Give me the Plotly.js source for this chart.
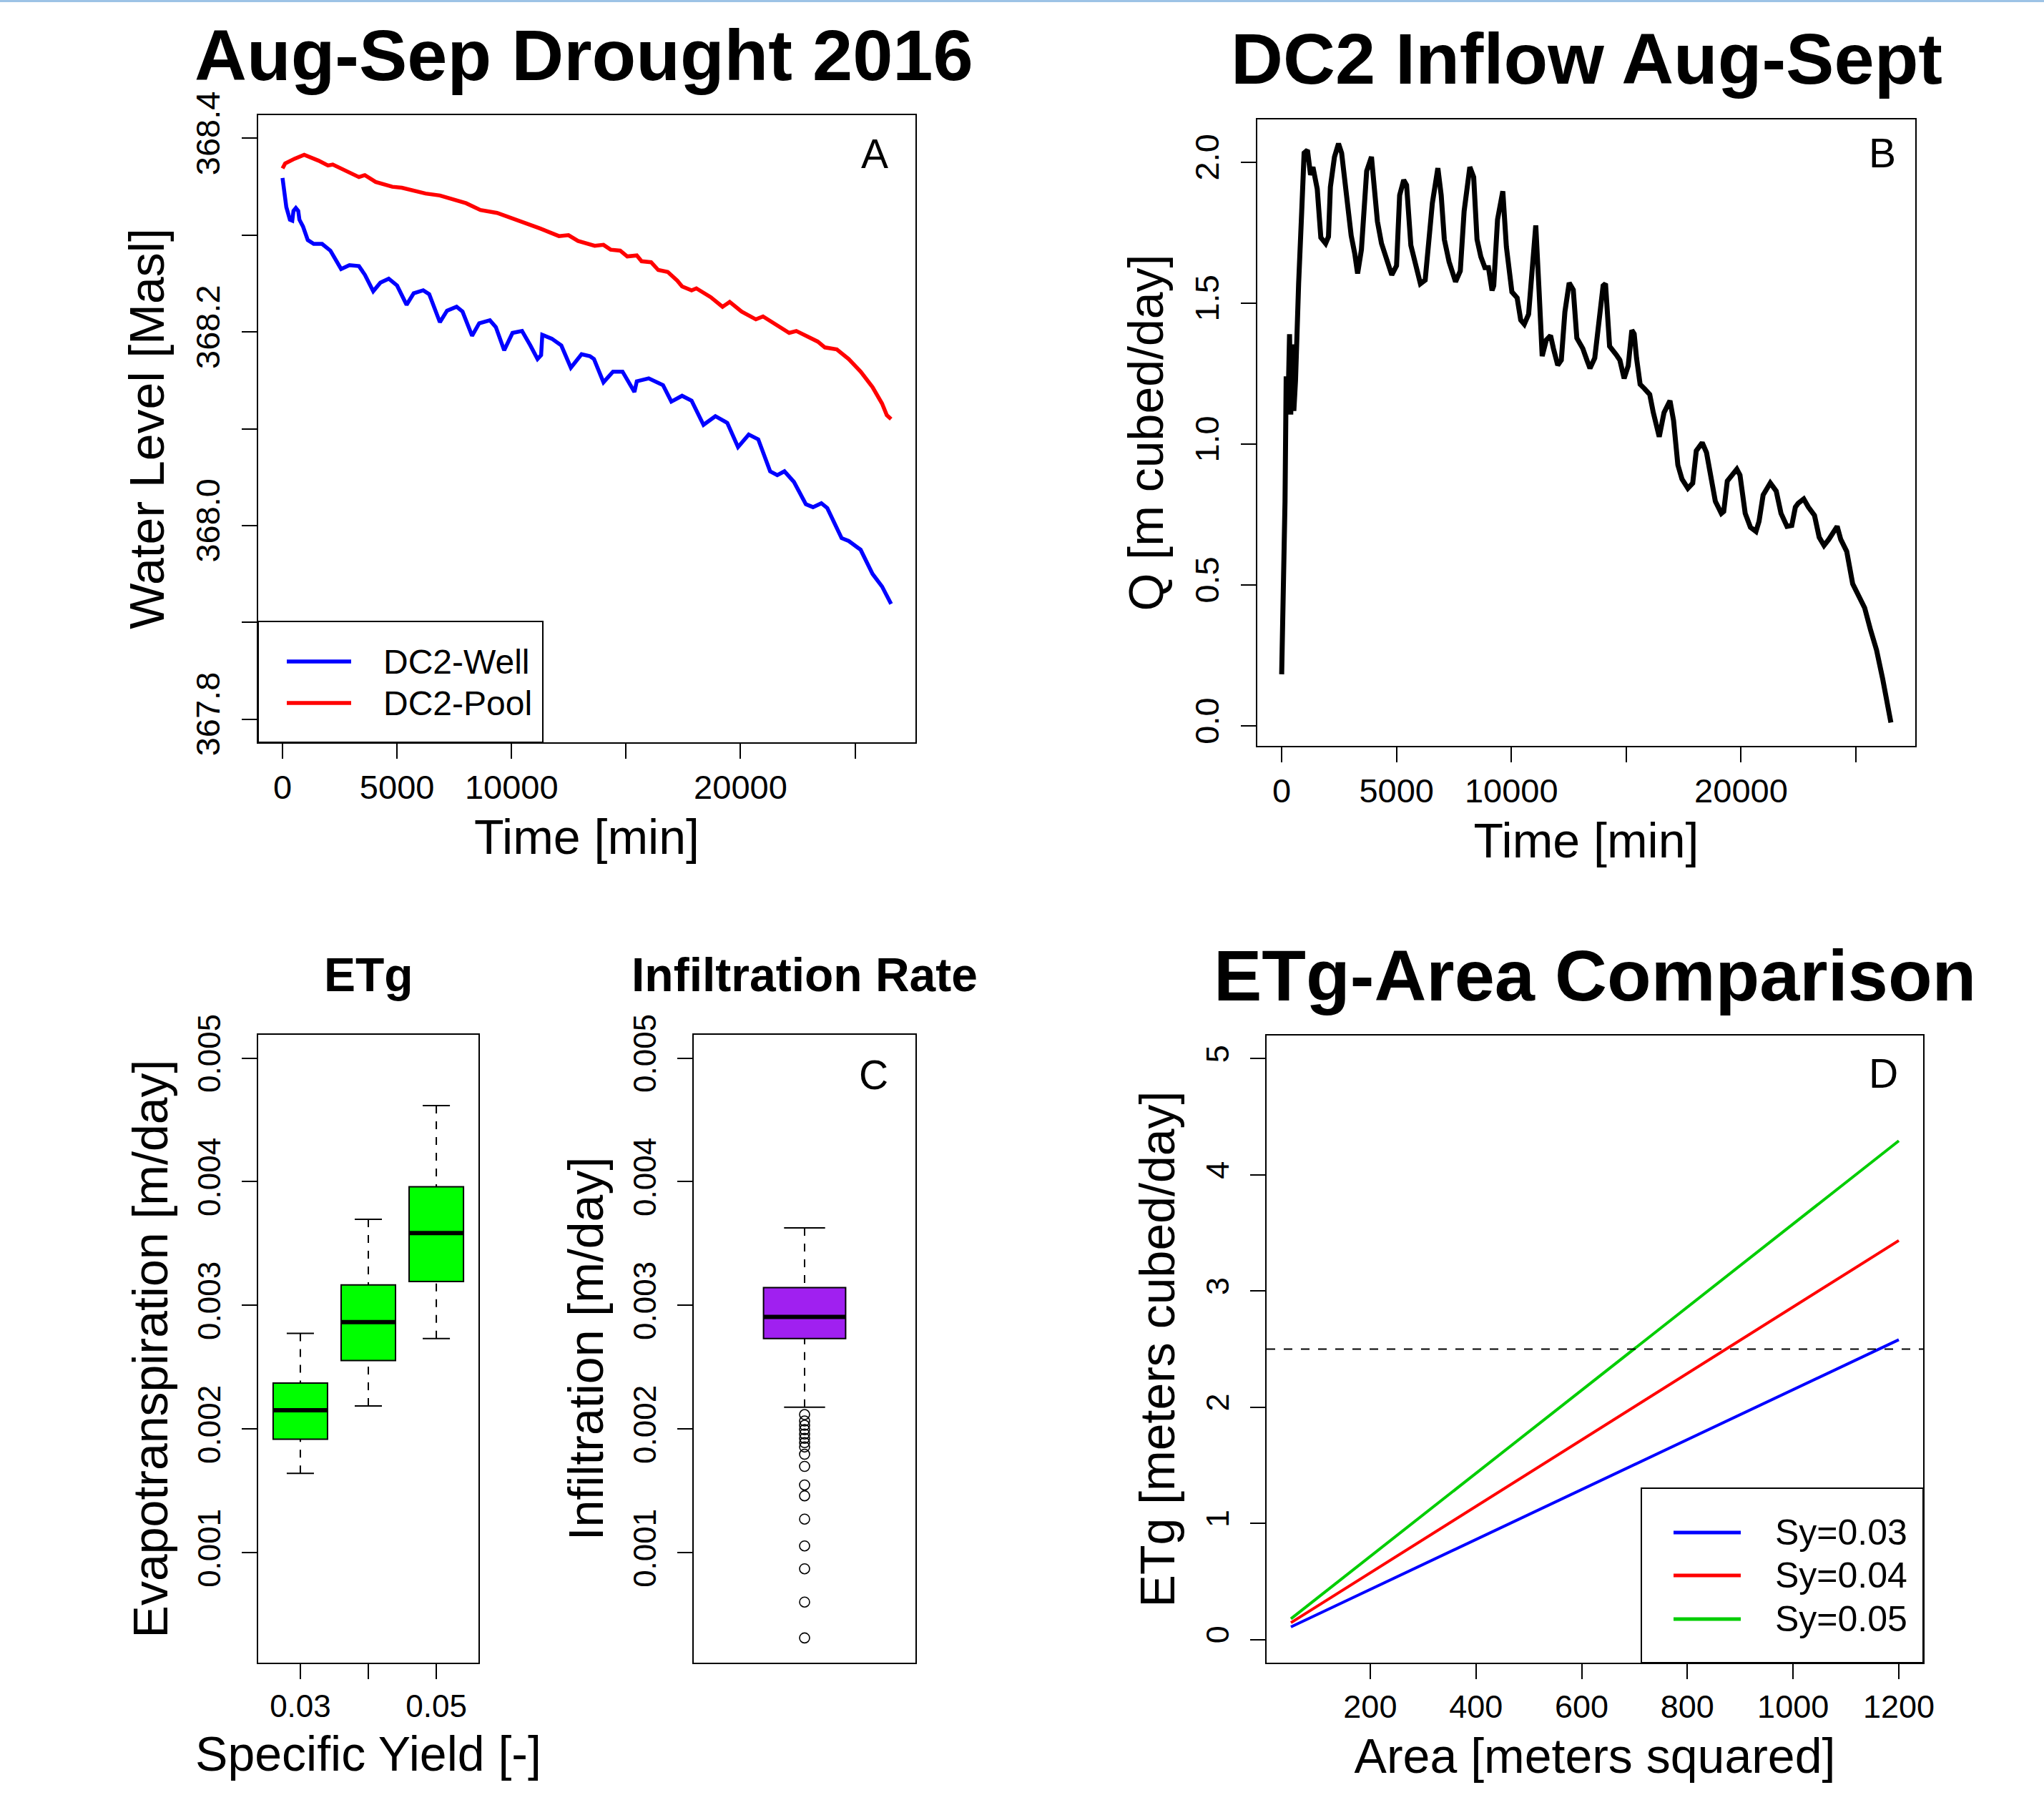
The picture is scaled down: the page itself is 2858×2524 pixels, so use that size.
<!DOCTYPE html>
<html>
<head>
<meta charset="utf-8">
<script src="https://cdn.plot.ly/plotly-3.0.1.min.js"></script>
<style>
html,body{margin:0;padding:0;background:#fff;}
#chart{width:2858px;height:2524px;}
</style>
</head>
<body>
<div id="chart"></div>
<script>
// ---------------- Panel A: water level ----------------
const timeWell = [0,62,166,322,426,478,582,686,738,894,1102,1362,1726,2090,2558,2922,3337,3597,3961,4273,
  4637,5001,5417,5728,6144,6404,6872,7184,7600,7860,8276,8588,9055,9315,9679,10043,10459,10823,11135,11291,
  11343,11759,12174,12590,13058,13422,13599,14015,14431,14847,15366,15470,15990,16614,16978,17446,
  17862,18382,18901,19421,19889,20357,20773,21292,21605,21917,22332,22852,23164,23528,23788,24412,24723,25243,25763,26179,26574];
const levelWell = [368.359,368.346,368.329,368.316,368.315,368.325,368.328,368.325,368.316,368.309,368.295,368.291,368.291,368.284,368.265,368.269,368.268,368.259,368.242,368.251,
  368.255,368.248,368.228,368.240,368.243,368.239,368.210,368.222,368.226,368.221,368.196,368.209,368.212,368.205,368.181,368.199,368.201,368.186,368.172,368.176,
  368.197,368.193,368.186,368.163,368.177,368.175,368.172,368.148,368.159,368.159,368.138,368.149,368.152,368.145,368.128,368.134,
  368.129,368.104,368.113,368.106,368.081,368.094,368.089,368.056,368.052,368.056,368.045,368.022,368.019,368.023,368.018,367.987,367.984,367.975,367.950,367.937,367.919];
const timePool = [0,115,530,946,1570,1986,2194,2714,3337,3597,4065,4793,5209,6248,6872,8016,8640,9367,10199,10823,
  11239,12071,12487,12902,13630,14015,14327,14743,15054,15470,15678,16094,16406,16822,17238,17446,17862,18070,18693,19213,
  19525,20045,20669,20981,21605,22124,22436,22852,23372,23683,24203,24723,25243,25763,26179,26387,26574];
const levelPool = [368.369,368.374,368.379,368.383,368.377,368.372,368.373,368.367,368.360,368.362,368.355,368.350,368.349,368.343,368.341,368.333,368.326,368.323,368.316,368.310,
  368.307,368.299,368.300,368.294,368.289,368.290,368.285,368.284,368.278,368.279,368.273,368.272,368.264,368.262,368.253,368.247,368.243,368.245,368.236,368.226,
  368.231,368.221,368.213,368.216,368.207,368.199,368.201,368.196,368.190,368.184,368.182,368.172,368.159,368.143,368.126,368.114,368.110];
const seriesNamesA = ['DC2-Well','DC2-Pool'];

// ---------------- Panel B: inflow ----------------
const timeInflow = [0,62,146,197,270,343,395,478,530,603,665,738,873,977,1123,1258,1362,1549,1705,1913,
  2038,2121,2298,2475,2610,2766,2891,3026,3181,3306,3472,3597,3701,3909,4013,4169,4346,4585,4793,5001,
  5136,5313,5438,5625,5802,6040,6248,6383,6560,6800,6945,7081,7288,7569,7776,7943,8192,8359,8505,8671,
  8848,9003,9159,9232,9398,9627,9783,10023,10251,10407,10562,10750,10874,11062,11208,11342,11519,11706,11831,12018,
  12174,12330,12517,12695,12850,13110,13287,13422,13630,13817,13994,14098,14276,14566,14722,14909,15087,15243,15346,15449,
  15605,15792,16023,16178,16437,16646,16905,17061,17248,17426,17684,17894,18050,18308,18495,18673,18879,19141,19244,19400,
  19659,19815,19952,20180,20408,20648,20782,20960,21272,21530,21739,21998,22207,22363,22488,22728,22934,23196,23402,23611,
  23820,24182,24338,24600,24858,25170,25379,25638,25898,26159,26334,26522];
const inflowQ = [0.183,0.397,0.797,1.240,1.112,1.390,1.105,1.354,1.118,1.226,1.426,1.569,1.826,2.033,2.043,1.955,1.983,1.905,1.733,1.712,
  1.736,1.912,2.019,2.066,2.033,1.919,1.826,1.740,1.676,1.605,1.690,1.847,1.969,2.019,1.926,1.790,1.712,1.654,1.600,1.633,
  1.883,1.937,1.919,1.705,1.647,1.569,1.582,1.712,1.855,1.979,1.883,1.726,1.647,1.576,1.614,1.826,1.983,1.947,1.726,1.665,
  1.626,1.626,1.545,1.562,1.797,1.897,1.700,1.540,1.519,1.440,1.425,1.461,1.597,1.776,1.540,1.312,1.369,1.385,1.339,1.280,
  1.298,1.469,1.572,1.547,1.376,1.339,1.298,1.269,1.305,1.455,1.562,1.569,1.347,1.317,1.298,1.233,1.278,1.404,1.391,1.305,
  1.212,1.197,1.176,1.112,1.026,1.112,1.154,1.083,0.926,0.876,0.843,0.861,0.976,1.005,0.970,0.890,0.797,0.754,0.761,0.869,
  0.893,0.911,0.890,0.754,0.705,0.690,0.726,0.819,0.862,0.833,0.754,0.708,0.711,0.776,0.790,0.805,0.776,0.747,0.669,0.640,
  0.662,0.708,0.662,0.619,0.504,0.454,0.419,0.340,0.269,0.169,0.083,0.012];

// ---------------- Panel C: ETg boxplots ----------------
const syCategories = ['0.03','0.04','0.05'];
const syTickText = ['0.03','','0.05'];
const etgLower  = [0.001643,0.002188,0.002733];
const etgQ1     = [0.001919,0.002555,0.003194];
const etgMedian = [0.002153,0.002866,0.003585];
const etgQ3     = [0.002373,0.003166,0.003959];
const etgUpper  = [0.002775,0.003697,0.004616];

// ---------------- Panel C: infiltration boxplot ----------------
const infLower  = [0.002177];
const infQ1     = [0.002733];
const infMedian = [0.002907];
const infQ3     = [0.003145];
const infUpper  = [0.003627];
const infOutliers = [0.002118,0.002066,0.002031,0.001996,0.001961,0.001926,0.001891,0.001856,0.001797,
  0.001699,0.001549,0.001461,0.001273,0.001056,0.000871,0.000602,0.000312];

// ---------------- Panel D: ETg vs area ----------------
const areaValues = [50,1200];
const etgSy003 = [0.108,2.581];
const etgSy004 = [0.144,3.435];
const etgSy005 = [0.178,4.293];
const syNamesD = ['Sy=0.03','Sy=0.04','Sy=0.05'];
const etgThreshold = 2.5;

// ---------------- Tick labels ----------------
const timeTicks = [0,5000,10000,15000,20000,25000];
const timeTickText = ['0','5000','10000','','20000',''];
const levelTicks = [367.8,367.9,368.0,368.1,368.2,368.3,368.4];
const levelTickText = ['367.8','','368.0','','368.2','','368.4'];
const qTicks = [0,0.5,1,1.5,2];
const qTickText = ['0.0','0.5','1.0','1.5','2.0'];
const rateTicks = [0.001,0.002,0.003,0.004,0.005];
const rateTickText = ['0.001','0.002','0.003','0.004','0.005'];
const areaTicks = [200,400,600,800,1000,1200];
const etgAreaTicks = [0,1,2,3,4,5];

// ================= drawing =================
const FONT = '"Liberation Sans", Arial, Helvetica, sans-serif';
const W = 2858, H = 2524;
const px = v => v / W;
const py = v => 1 - v / H;
const XT_STANDOFF = 20, YT_STANDOFF = 12, YLAB_STANDOFF = 12;

function axis(extra) {
  return Object.assign({
    showline: true, linecolor: '#000', linewidth: 2, mirror: true,
    ticks: 'outside', ticklen: 21, tickwidth: 2, tickcolor: '#000',
    showgrid: false, zeroline: false, automargin: false, fixedrange: true,
    tickmode: 'array',
    tickfont: {family: FONT, size: 47, color: '#000'}
  }, extra);
}
function yaxisCfg(extra) {
  return axis(Object.assign({tickangle: -90, ticklabelstandoff: YLAB_STANDOFF}, extra));
}
function ttl(text, standoff) {
  return {text: text, font: {family: FONT, size: 68, color: '#000'}, standoff: standoff};
}

// box helpers (positions 1..n, widths are style constants)
const ETG_BOX_W = 0.8, INF_BOX_W = 0.4;
function segs(pos, ya, yb, half) {
  const x = [], y = [];
  pos.forEach((p, i) => { x.push(p - half, p + half, null); y.push(ya[i], yb[i], null); });
  return {x, y};
}
function whiskers(pos, lo, q1, q3, hi) {
  const x = [], y = [];
  pos.forEach((p, i) => { x.push(p, p, null, p, p, null); y.push(hi[i], q3[i], null, lo[i], q1[i], null); });
  return {x, y};
}
const etgPos = syCategories.map((c, i) => i + 1);
const infPos = [1];

const traces = [];
// Panel A
traces.push({type: 'scatter', mode: 'lines', name: seriesNamesA[0], x: timeWell, y: levelWell,
  line: {color: '#0000FF', width: 5.5}, xaxis: 'x', yaxis: 'y', showlegend: false});
traces.push({type: 'scatter', mode: 'lines', name: seriesNamesA[1], x: timePool, y: levelPool,
  line: {color: '#FF0000', width: 5.5}, xaxis: 'x', yaxis: 'y', showlegend: false});
// Panel B
traces.push({type: 'scatter', mode: 'lines', name: 'Inflow', x: timeInflow, y: inflowQ,
  line: {color: '#000000', width: 7}, xaxis: 'x2', yaxis: 'y2', showlegend: false});

// Panel C ETg
const ew = whiskers(etgPos, etgLower, etgQ1, etgQ3, etgUpper);
traces.push({type: 'scatter', mode: 'lines', x: ew.x, y: ew.y, xaxis: 'x3', yaxis: 'y3',
  line: {color: '#000', width: 2, dash: '11px,11px'}, showlegend: false, hoverinfo: 'skip'});
const ecU = segs(etgPos, etgUpper, etgUpper, ETG_BOX_W / 4);
const ecL = segs(etgPos, etgLower, etgLower, ETG_BOX_W / 4);
traces.push({type: 'scatter', mode: 'lines', x: ecU.x.concat(ecL.x), y: ecU.y.concat(ecL.y), xaxis: 'x3', yaxis: 'y3',
  line: {color: '#000', width: 2}, showlegend: false, hoverinfo: 'skip'});
traces.push({type: 'box', orientation: 'v', name: 'ETg', x: etgPos, q1: etgQ1, median: etgMedian, q3: etgQ3,
  lowerfence: etgQ1, upperfence: etgQ3, width: ETG_BOX_W, whiskerwidth: 0, boxpoints: false,
  fillcolor: '#00FF00', line: {color: '#000', width: 2}, xaxis: 'x3', yaxis: 'y3', showlegend: false});
const em = segs(etgPos, etgMedian, etgMedian, ETG_BOX_W / 2);
traces.push({type: 'scatter', mode: 'lines', x: em.x, y: em.y, xaxis: 'x3', yaxis: 'y3',
  line: {color: '#000', width: 6}, showlegend: false, hoverinfo: 'skip'});

// Panel C infiltration
const iw = whiskers(infPos, infLower, infQ1, infQ3, infUpper);
traces.push({type: 'scatter', mode: 'lines', x: iw.x, y: iw.y, xaxis: 'x4', yaxis: 'y4',
  line: {color: '#000', width: 2, dash: '11px,11px'}, showlegend: false, hoverinfo: 'skip'});
const icU = segs(infPos, infUpper, infUpper, INF_BOX_W / 4);
const icL = segs(infPos, infLower, infLower, INF_BOX_W / 4);
traces.push({type: 'scatter', mode: 'lines', x: icU.x.concat(icL.x), y: icU.y.concat(icL.y), xaxis: 'x4', yaxis: 'y4',
  line: {color: '#000', width: 2}, showlegend: false, hoverinfo: 'skip'});
traces.push({type: 'box', orientation: 'v', name: 'Infiltration', x: infPos, q1: infQ1, median: infMedian, q3: infQ3,
  lowerfence: infQ1, upperfence: infQ3, width: INF_BOX_W, whiskerwidth: 0, boxpoints: false,
  fillcolor: '#A020F0', line: {color: '#000', width: 2}, xaxis: 'x4', yaxis: 'y4', showlegend: false});
const im = segs(infPos, infMedian, infMedian, INF_BOX_W / 2);
traces.push({type: 'scatter', mode: 'lines', x: im.x, y: im.y, xaxis: 'x4', yaxis: 'y4',
  line: {color: '#000', width: 6}, showlegend: false, hoverinfo: 'skip'});
traces.push({type: 'scatter', mode: 'markers', name: 'outliers', x: infOutliers.map(() => infPos[0]), y: infOutliers,
  marker: {symbol: 'circle-open', size: 14, color: '#000', line: {width: 1.6, color: '#000'}},
  xaxis: 'x4', yaxis: 'y4', showlegend: false});

// Panel D
const dColors = ['#0000FF', '#FF0000', '#00CD00'];
[etgSy003, etgSy004, etgSy005].forEach((ys, i) => {
  traces.push({type: 'scatter', mode: 'lines', name: syNamesD[i], x: areaValues, y: ys,
    line: {color: dColors[i], width: 4}, xaxis: 'x5', yaxis: 'y5', showlegend: false});
});

// ---------- layout ----------
const annotations = [];
function txt(text, x, y, size, opts) {
  annotations.push(Object.assign({
    text: text, xref: 'paper', yref: 'paper', x: px(x), y: py(y), showarrow: false,
    xanchor: 'center', yanchor: 'middle', font: {family: FONT, size: size, color: '#000'}
  }, opts || {}));
}
// titles
txt('<b>Aug-Sep Drought 2016</b>', 816, 77, 101);
txt('<b>DC2 Inflow Aug-Sept</b>', 2218, 82, 101);
txt('<b>ETg</b>', 515, 1363, 66);
txt('<b>Infiltration Rate</b>', 1125, 1363, 66);
txt('<b>ETg-Area Comparison</b>', 2230, 1364, 101);
// panel letters
txt('A', 1223, 215, 57);
txt('B', 2632, 214, 57);
txt('C', 1221, 1503, 57);
txt('D', 2633, 1501, 57);
// legend texts
txt(seriesNamesA[0], 534, 925, 48, {xanchor: 'left'});
txt(seriesNamesA[1], 534, 983, 48, {xanchor: 'left'});
txt(syNamesD[0], 2480, 2143, 50, {xanchor: 'left'});
txt(syNamesD[1], 2480, 2203, 50, {xanchor: 'left'});
txt(syNamesD[2], 2480, 2264, 50, {xanchor: 'left'});

const shapes = [
  // thin light-blue band at top of the image
  {type: 'rect', xref: 'paper', yref: 'paper', x0: 0, x1: 1, y0: py(3), y1: 1, fillcolor: '#9DC3E6', line: {width: 0}, layer: 'above'},
  // legend A
  {type: 'rect', xref: 'paper', yref: 'paper', x0: px(361), x1: px(759), y0: py(1038), y1: py(869), fillcolor: '#fff', line: {color: '#000', width: 2}, layer: 'above'},
  {type: 'line', xref: 'paper', yref: 'paper', x0: px(401), x1: px(491), y0: py(925), y1: py(925), line: {color: '#0000FF', width: 5.5}, layer: 'above'},
  {type: 'line', xref: 'paper', yref: 'paper', x0: px(401), x1: px(491), y0: py(983), y1: py(983), line: {color: '#FF0000', width: 5.5}, layer: 'above'},
  // threshold line D
  {type: 'line', xref: 'x5 domain', yref: 'y5', x0: 0, x1: 1, y0: etgThreshold, y1: etgThreshold, line: {color: '#000', width: 2, dash: '12px,12px'}},
  // legend D
  {type: 'rect', xref: 'paper', yref: 'paper', x0: px(2295), x1: px(2689), y0: py(2325), y1: py(2081), fillcolor: '#fff', line: {color: '#000', width: 2}, layer: 'above'},
  {type: 'line', xref: 'paper', yref: 'paper', x0: px(2340), x1: px(2434), y0: py(2143), y1: py(2143), line: {color: dColors[0], width: 5}, layer: 'above'},
  {type: 'line', xref: 'paper', yref: 'paper', x0: px(2340), x1: px(2434), y0: py(2203), y1: py(2203), line: {color: dColors[1], width: 5}, layer: 'above'},
  {type: 'line', xref: 'paper', yref: 'paper', x0: px(2340), x1: px(2434), y0: py(2264), y1: py(2264), line: {color: dColors[2], width: 5}, layer: 'above'}
];

const layout = {
  width: W, height: H,
  margin: {l: 0, r: 0, t: 0, b: 0, pad: 0},
  paper_bgcolor: '#fff', plot_bgcolor: 'rgba(0,0,0,0)',
  showlegend: false,
  font: {family: FONT, color: '#000'},
  xaxis: axis({domain: [px(361), px(1280)], range: [-1063, 27637], anchor: 'y',
    tickvals: timeTicks, ticktext: timeTickText, title: ttl('Time [min]', XT_STANDOFF)}),
  yaxis: yaxisCfg({domain: [py(1038), py(161)], range: [367.776, 368.424], anchor: 'x',
    tickvals: levelTicks, ticktext: levelTickText, title: ttl('Water Level [Masl]', YT_STANDOFF)}),
  xaxis2: axis({domain: [px(1758), px(2678)], range: [-1061, 27583], anchor: 'y2',
    tickvals: timeTicks, ticktext: timeTickText, title: ttl('Time [min]', XT_STANDOFF)}),
  yaxis2: yaxisCfg({domain: [py(1043), py(167)], range: [-0.071, 2.152], anchor: 'x2',
    tickvals: qTicks, ticktext: qTickText, title: ttl('Q [m cubed/day]', YT_STANDOFF)}),
  xaxis3: axis({domain: [px(361), px(669)], range: [0.38, 3.62], anchor: 'y3',
    tickvals: etgPos, ticktext: syTickText, tickfont: {family: FONT, size: 44, color: '#000'},
    title: ttl('Specific Yield [-]', XT_STANDOFF)}),
  yaxis3: yaxisCfg({domain: [py(2325), py(1447)], range: [0.000112, 0.005188], anchor: 'x3',
    tickvals: rateTicks, ticktext: rateTickText, tickfont: {family: FONT, size: 44, color: '#000'},
    title: ttl('Evapotranspiration [m/day]', YT_STANDOFF)}),
  xaxis4: axis({domain: [px(970), px(1280)], range: [0.46, 1.54], anchor: 'y4',
    ticks: '', showticklabels: false, tickvals: []}),
  yaxis4: yaxisCfg({domain: [py(2325), py(1447)], range: [0.000112, 0.005188], anchor: 'x4',
    tickvals: rateTicks, ticktext: rateTickText, tickfont: {family: FONT, size: 44, color: '#000'},
    title: ttl('Infiltration [m/day]', YT_STANDOFF)}),
  xaxis5: axis({domain: [px(1771), px(2689)], range: [4, 1246], anchor: 'y5',
    tickvals: areaTicks, ticktext: areaTicks.map(String), tickfont: {family: FONT, size: 45, color: '#000'},
    title: ttl('Area [meters squared]', XT_STANDOFF)}),
  yaxis5: yaxisCfg({domain: [py(2325), py(1448)], range: [-0.2, 5.2], anchor: 'x5',
    tickvals: etgAreaTicks, ticktext: etgAreaTicks.map(String), tickfont: {family: FONT, size: 45, color: '#000'},
    title: ttl('ETg [meters cubed/day]', YT_STANDOFF)}),
  annotations: annotations,
  shapes: shapes
};

Plotly.newPlot('chart', traces, layout, {displayModeBar: false, staticPlot: true});
</script>
</body>
</html>
